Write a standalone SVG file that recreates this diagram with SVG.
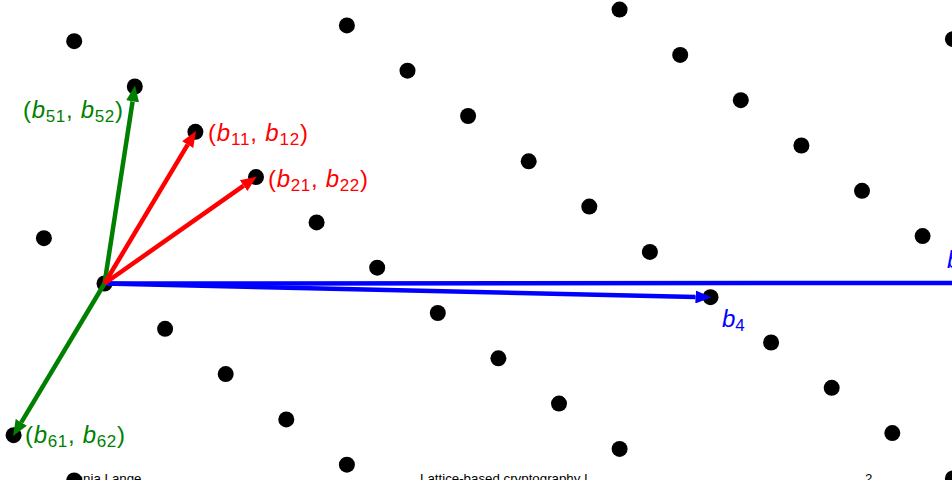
<svg xmlns="http://www.w3.org/2000/svg" width="952" height="480" viewBox="0 0 952 480">
<style>
.dot{fill:#000}
.lbl{font-family:"Liberation Sans",Arial,sans-serif;font-size:24px}
.lbl .v{font-style:italic}
.sub{font-size:17px}
.red{fill:#ff0000}
.green{fill:#008000}
.blue{fill:#0000ff}
.foot{font-family:"Liberation Sans",Arial,sans-serif;font-size:13.3px;fill:#000}
.vec{stroke-width:4.5;fill:none;stroke-linecap:butt}
</style>
<defs>
<marker id="ar" viewBox="0 -6.5 16 13" refX="0" refY="0" markerWidth="16" markerHeight="13" markerUnits="userSpaceOnUse" orient="auto"><path d="M0,-6.5 L16,0 L0,6.5 z" fill="#ff0000"/></marker>
<marker id="ag" viewBox="0 -6.5 16 13" refX="0" refY="0" markerWidth="16" markerHeight="13" markerUnits="userSpaceOnUse" orient="auto"><path d="M0,-6.5 L16,0 L0,6.5 z" fill="#008000"/></marker>
<marker id="ab" viewBox="0 -6.5 16 13" refX="0" refY="0" markerWidth="16" markerHeight="13" markerUnits="userSpaceOnUse" orient="auto"><path d="M0,-6.5 L16,0 L0,6.5 z" fill="#0000ff"/></marker>
</defs>
<g id="footer">
<text class="foot" x="69" y="483">Tanja Lange</text>
<text class="foot" x="420" y="483">Lattice-based cryptography I</text>
<text class="foot" x="865" y="483">2</text>
</g>
<g id="lattice">
<circle class="dot" cx="104.5" cy="283.5" r="8"/>
<circle class="dot" cx="43.9" cy="238.2" r="8"/>
<circle class="dot" cx="165.1" cy="328.8" r="8"/>
<circle class="dot" cx="225.7" cy="374.1" r="8"/>
<circle class="dot" cx="286.3" cy="419.4" r="8"/>
<circle class="dot" cx="346.9" cy="464.7" r="8"/>
<circle class="dot" cx="134.8" cy="86.5" r="8"/>
<circle class="dot" cx="74.2" cy="41.2" r="8"/>
<circle class="dot" cx="195.4" cy="131.8" r="8"/>
<circle class="dot" cx="256" cy="177.1" r="8"/>
<circle class="dot" cx="316.6" cy="222.4" r="8"/>
<circle class="dot" cx="377.2" cy="267.7" r="8"/>
<circle class="dot" cx="437.8" cy="313" r="8"/>
<circle class="dot" cx="498.4" cy="358.3" r="8"/>
<circle class="dot" cx="559" cy="403.6" r="8"/>
<circle class="dot" cx="619.6" cy="448.9" r="8"/>
<circle class="dot" cx="74.2" cy="480.5" r="8"/>
<circle class="dot" cx="13.6" cy="435.2" r="8"/>
<circle class="dot" cx="346.9" cy="25.4" r="8"/>
<circle class="dot" cx="407.5" cy="70.7" r="8"/>
<circle class="dot" cx="468.1" cy="116" r="8"/>
<circle class="dot" cx="528.7" cy="161.3" r="8"/>
<circle class="dot" cx="589.3" cy="206.6" r="8"/>
<circle class="dot" cx="649.9" cy="251.9" r="8"/>
<circle class="dot" cx="710.5" cy="297.2" r="8"/>
<circle class="dot" cx="771.1" cy="342.5" r="8"/>
<circle class="dot" cx="831.7" cy="387.8" r="8"/>
<circle class="dot" cx="892.3" cy="433.1" r="8"/>
<circle class="dot" cx="952.9" cy="478.4" r="8"/>
<circle class="dot" cx="619.6" cy="9.6" r="8"/>
<circle class="dot" cx="680.2" cy="54.9" r="8"/>
<circle class="dot" cx="740.8" cy="100.2" r="8"/>
<circle class="dot" cx="801.4" cy="145.5" r="8"/>
<circle class="dot" cx="862" cy="190.8" r="8"/>
<circle class="dot" cx="922.6" cy="236.1" r="8"/>
<circle class="dot" cx="952.9" cy="39.1" r="8"/>
</g>
<g id="connectors">
<line class="vec" x1="104.5" y1="283.5" x2="960" y2="283" stroke="#0000ff"/>
<line class="vec" x1="104.5" y1="283.5" x2="695.5" y2="296.9" stroke="#0000ff" marker-end="url(#ab)"/>
<line class="vec" x1="104.5" y1="283.5" x2="132.6" y2="101.3" stroke="#008000" marker-end="url(#ag)"/>
<line class="vec" x1="104.5" y1="283.5" x2="21.3" y2="422.3" stroke="#008000" marker-end="url(#ag)"/>
<line class="vec" x1="104.5" y1="283.5" x2="187.7" y2="144.7" stroke="#ff0000" marker-end="url(#ar)"/>
<line class="vec" x1="104.5" y1="283.5" x2="243.7" y2="185.7" stroke="#ff0000" marker-end="url(#ar)"/>
</g>
<g id="labels">
<text class="lbl green" x="23" y="118" textLength="100" lengthAdjust="spacing">(<tspan class="v">b</tspan><tspan class="sub" dy="4">51</tspan><tspan dy="-4">, </tspan><tspan class="v">b</tspan><tspan class="sub" dy="4">52</tspan><tspan dy="-4">)</tspan></text>
<text class="lbl red" x="208" y="141" textLength="100" lengthAdjust="spacing">(<tspan class="v">b</tspan><tspan class="sub" dy="4">11</tspan><tspan dy="-4">, </tspan><tspan class="v">b</tspan><tspan class="sub" dy="4">12</tspan><tspan dy="-4">)</tspan></text>
<text class="lbl red" x="268" y="187" textLength="100" lengthAdjust="spacing">(<tspan class="v">b</tspan><tspan class="sub" dy="4">21</tspan><tspan dy="-4">, </tspan><tspan class="v">b</tspan><tspan class="sub" dy="4">22</tspan><tspan dy="-4">)</tspan></text>
<text class="lbl green" x="25" y="443" textLength="100" lengthAdjust="spacing">(<tspan class="v">b</tspan><tspan class="sub" dy="4">61</tspan><tspan dy="-4">, </tspan><tspan class="v">b</tspan><tspan class="sub" dy="4">62</tspan><tspan dy="-4">)</tspan></text>
<text class="lbl blue" x="722" y="327"><tspan class="v">b</tspan><tspan class="sub" dy="4">4</tspan></text>
<text class="lbl blue" x="947" y="268"><tspan class="v">b</tspan><tspan class="sub" dy="4">3</tspan></text>
</g>
</svg>
